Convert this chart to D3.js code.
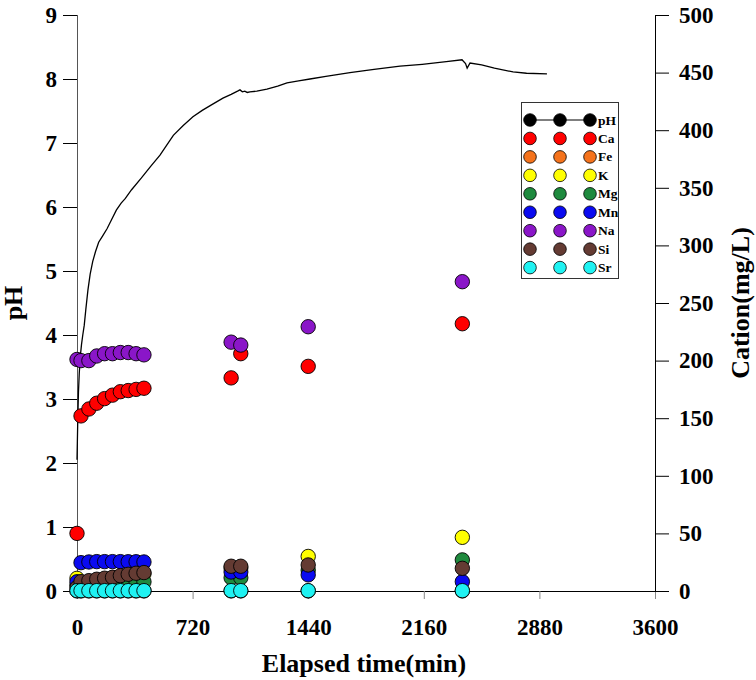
<!DOCTYPE html>
<html><head><meta charset="utf-8">
<script src="https://cdn.jsdelivr.net/npm/d3@7"></script>
<style>
body{margin:0;background:#fff}
text{font-family:"Liberation Serif","Times New Roman",serif;font-weight:bold}
</style>
</head><body><svg id="c" width="756" height="680"></svg>
<script>
// pH trace
const phTime  = [0, 2, 5, 9, 14, 20, 28, 36, 45, 55, 68, 82, 98, 115, 135, 160, 187, 215, 245, 275, 300, 340, 400, 460, 517, 560, 600, 660, 722, 780, 840, 909, 960, 1000, 1015, 1030, 1045, 1060, 1077, 1120, 1183, 1250, 1308, 1380, 1451, 1550, 1700, 1850, 2012, 2150, 2300, 2398, 2420, 2430, 2448, 2520, 2600, 2716, 2800, 2927];
const phValue = [2.05, 2.3, 2.7, 3.1, 3.4, 3.65, 3.85, 4.0, 4.15, 4.4, 4.7, 4.95, 5.15, 5.3, 5.45, 5.55, 5.66, 5.8, 5.95, 6.06, 6.13, 6.27, 6.45, 6.64, 6.81, 6.97, 7.12, 7.27, 7.41, 7.51, 7.6, 7.7, 7.76, 7.81, 7.83, 7.80, 7.81, 7.79, 7.80, 7.81, 7.84, 7.89, 7.94, 7.97, 8.0, 8.04, 8.1, 8.15, 8.2, 8.23, 8.27, 8.30, 8.24, 8.17, 8.25, 8.22, 8.17, 8.11, 8.09, 8.08];

// cation samples (mg/L)
const sampleTime = [0, 25, 74, 123, 172, 221, 270, 319, 368, 417, 960, 1020, 1440, 2400];
const Ca = [50, 152, 158, 163, 167, 170, 173, 174, 175, 176, 185, 206, 195, 232];
const Fe = [0.1, 0.1, 0.1, 0.1, 0.1, 0.1, 0.1, 0.1, 0.1, 0.1, 0.1, 0.1, 0.1, 0.1];
const K  = [11, 7, 8, 9, 10, 11, 12, 13, 14, 15, 20, 20, 30, 46.6];
const Mg = [5, 5, 5, 6, 6, 7, 7, 8, 8, 8, 11.5, 11.5, 18, 27];
const Mn = [8, 24.6, 25.2, 25.5, 25.5, 25.5, 25.5, 25.4, 25.4, 25.2, 16.5, 16.5, 14, 8.1];
const Na = [201, 200, 200, 204, 206, 206, 207, 207, 206, 205, 216, 213.5, 229.4, 268.5];
const Si = [3, 8.1, 9, 10.2, 11.1, 11.9, 13.3, 14.5, 15.4, 16, 21.5, 21.5, 22.6, 19.7];
const Sr = [0.3, 0.3, 0.3, 0.3, 0.3, 0.3, 0.3, 0.3, 0.3, 0.3, 0.3, 0.3, 0.3, 0.3];

const seriesNames  = ["Ca", "Fe", "K", "Mg", "Mn", "Na", "Si", "Sr"];
const seriesValues = [Ca, Fe, K, Mg, Mn, Na, Si, Sr];
const seriesColors = ["#ff0000", "#f5731c", "#ffff00", "#1f8a3e", "#0a0af0", "#8a16c8", "#643b33", "#1ff2f2"];

const xTicks  = [0, 720, 1440, 2160, 2880, 3600];
const phTicks = [0, 1, 2, 3, 4, 5, 6, 7, 8, 9];
const catTicks = [0, 50, 100, 150, 200, 250, 300, 350, 400, 450, 500];

const svg = d3.select("#c");
const L = 77, R = 655, T = 15, B = 591;

const x = d3.scaleLinear().domain([0, 3600]).range([L, R]);
const yPH = d3.scaleLinear().domain([0, 9]).range([B, T]);
const yC = d3.scaleLinear().domain([0, 500]).range([B, T]);

function styleText(g) {
  g.selectAll("text").attr("font-size", 23).attr("fill", "#000")
    .attr("font-family", "Liberation Serif").attr("font-weight", "bold");
}

// axes
const gx = svg.append("g").attr("transform", `translate(0,${B})`)
  .call(d3.axisBottom(x).tickValues(xTicks).tickSize(8).tickPadding(20).tickFormat(d3.format("d")));
gx.select(".domain").attr("stroke", "#000").attr("d", `M${L},0.5H${R}`);
gx.selectAll(".tick line").attr("stroke", "#888");
styleText(gx);

const gl = svg.append("g").attr("transform", `translate(${L},0)`)
  .call(d3.axisLeft(yPH).tickValues(phTicks).tickSize(14).tickPadding(6));
gl.select(".domain").attr("stroke", "#555").attr("d", `M0.5,${T}V${B}`);
gl.selectAll(".tick line").attr("stroke", "#000");
styleText(gl);

const gr = svg.append("g").attr("transform", `translate(${R},0)`)
  .call(d3.axisRight(yC).tickValues(catTicks).tickSize(14).tickPadding(10));
gr.select(".domain").attr("stroke", "#000").attr("d", `M0.5,${T}V${B}`);
gr.selectAll(".tick line").attr("stroke", "#000");
styleText(gr);

// axis titles
svg.append("text").attr("x", (L + R) / 2 - 2).attr("y", 672).attr("text-anchor", "middle")
  .attr("font-size", 26).text("Elapsed time(min)");
svg.append("text").attr("transform", `translate(22,${(T + B) / 2}) rotate(-90)`).attr("text-anchor", "middle")
  .attr("font-size", 26).text("pH");
svg.append("text").attr("transform", `translate(749,${(T + B) / 2}) rotate(-90)`).attr("text-anchor", "middle")
  .attr("font-size", 26).text("Cation(mg/L)");

// pH line
const phData = phTime.map((t, i) => [t, phValue[i]]);
svg.append("path").datum(phData)
  .attr("fill", "none").attr("stroke", "#000").attr("stroke-width", 1.3)
  .attr("d", d3.line().x(d => x(d[0])).y(d => yPH(d[1])));

// scatter
seriesNames.forEach((name, si) => {
  const vals = seriesValues[si];
  svg.append("g").selectAll("circle").data(sampleTime.map((t, i) => [t, vals[i]]))
    .join("circle")
    .attr("cx", d => x(d[0])).attr("cy", d => yC(d[1])).attr("r", 7.2)
    .attr("fill", seriesColors[si]).attr("stroke", "#000").attr("stroke-width", 0.9);
});

// legend
const lg = svg.append("g");
const lx = 521, ly = 102, lw = 97, lh = 176;
lg.append("rect").attr("x", lx + 0.5).attr("y", ly + 0.5).attr("width", lw).attr("height", lh)
  .attr("fill", "#fff").attr("stroke", "#333").attr("stroke-width", 1);
const legNames = ["pH"].concat(seriesNames);
const legColors = ["#000"].concat(seriesColors);
const cols = [530, 560, 590];
legNames.forEach((n, i) => {
  const yy = 120 + i * 18.45;
  if (i === 0) {
    lg.append("line").attr("x1", cols[0]).attr("x2", cols[2]).attr("y1", yy).attr("y2", yy)
      .attr("stroke", "#000").attr("stroke-width", 1.2);
  }
  cols.forEach(cx => {
    lg.append("circle").attr("cx", cx).attr("cy", yy).attr("r", 6.3)
      .attr("fill", legColors[i]).attr("stroke", "#000").attr("stroke-width", 0.8);
  });
  lg.append("text").attr("x", 598).attr("y", yy + 4.5).attr("font-size", 13.5).text(n);
});
</script>
</body></html>
